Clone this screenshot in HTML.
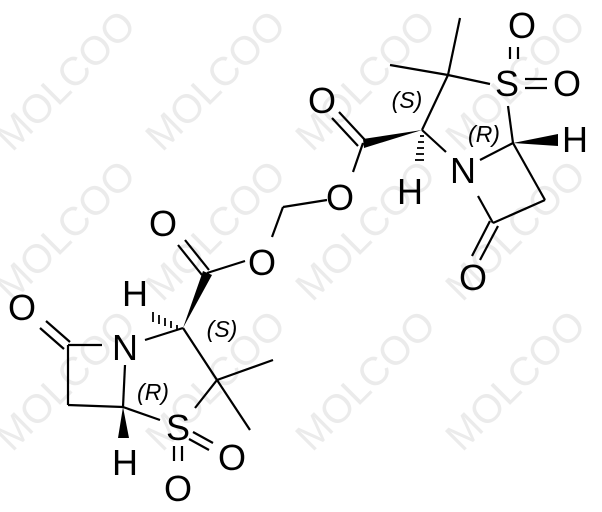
<!DOCTYPE html>
<html><head><style>html,body{margin:0;padding:0;background:#fff;overflow:hidden;width:602px;height:512px}svg{display:block}</style></head>
<body>
<svg width="602" height="512" viewBox="0 0 602 512" xmlns="http://www.w3.org/2000/svg" style="overflow:hidden">
<g font-family="'Liberation Sans', sans-serif" font-size="40" fill="#ebebeb" text-anchor="middle">
<text transform="translate(75,90) rotate(-45)">MOLCOO</text>
<text transform="translate(225,90) rotate(-45)">MOLCOO</text>
<text transform="translate(375,90) rotate(-45)">MOLCOO</text>
<text transform="translate(525,90) rotate(-45)">MOLCOO</text>
<text transform="translate(75,240) rotate(-45)">MOLCOO</text>
<text transform="translate(225,240) rotate(-45)">MOLCOO</text>
<text transform="translate(375,240) rotate(-45)">MOLCOO</text>
<text transform="translate(525,240) rotate(-45)">MOLCOO</text>
<text transform="translate(75,390) rotate(-45)">MOLCOO</text>
<text transform="translate(225,390) rotate(-45)">MOLCOO</text>
<text transform="translate(375,390) rotate(-45)">MOLCOO</text>
<text transform="translate(525,390) rotate(-45)">MOLCOO</text>
</g>
<g stroke="#000" stroke-width="2.2" fill="none">
<line x1="448" y1="75" x2="460" y2="18"/>
<line x1="448" y1="75" x2="390" y2="65"/>
<line x1="448" y1="75" x2="490" y2="84"/>
<line x1="448" y1="75" x2="422" y2="130"/>
<line x1="422" y1="130" x2="446" y2="152"/>
<line x1="480" y1="160" x2="513" y2="143"/>
<line x1="508" y1="106" x2="513" y2="143"/>
<line x1="513" y1="143" x2="545" y2="200"/>
<line x1="545" y1="200" x2="493" y2="223"/>
<line x1="493" y1="223" x2="478" y2="196"/>
<line x1="490" y1="221" x2="472" y2="256"/>
<line x1="498" y1="226" x2="480" y2="260"/>
<line x1="510" y1="47" x2="510" y2="59"/>
<line x1="518" y1="47" x2="518" y2="59"/>
<line x1="525" y1="79" x2="547" y2="79"/>
<line x1="525" y1="88" x2="547" y2="88"/>
<line x1="365" y1="140" x2="339" y2="112"/>
<line x1="358" y1="146" x2="332" y2="118"/>
<line x1="363" y1="143" x2="353" y2="172"/>
<line x1="327" y1="200" x2="283" y2="207"/>
<line x1="283" y1="207" x2="272" y2="237"/>
<line x1="207" y1="273" x2="245" y2="261"/>
<line x1="209" y1="270" x2="185" y2="240"/>
<line x1="202" y1="275" x2="178" y2="245"/>
<line x1="183" y1="328" x2="145" y2="340"/>
<line x1="183" y1="328" x2="217" y2="380"/>
<line x1="217" y1="380" x2="273" y2="360"/>
<line x1="217" y1="380" x2="250" y2="430"/>
<line x1="217" y1="380" x2="195" y2="408"/>
<line x1="160" y1="420" x2="123" y2="407"/>
<line x1="125" y1="365" x2="123" y2="407"/>
<line x1="123" y1="407" x2="68" y2="405"/>
<line x1="68" y1="405" x2="68" y2="345"/>
<line x1="68" y1="345" x2="102" y2="345"/>
<line x1="70" y1="342" x2="46" y2="321"/>
<line x1="64" y1="349" x2="40" y2="328"/>
<line x1="174" y1="446" x2="174" y2="461"/>
<line x1="182" y1="446" x2="182" y2="461"/>
<line x1="193" y1="432" x2="213" y2="443"/>
<line x1="189" y1="439" x2="209" y2="450"/>
</g>
<g fill="#000">
<polygon points="422,130 363,139 364,148"/>
<polygon points="513,143 558,134 558,146"/>
<polygon points="183,328 203,271 212,275"/>
<polygon points="123,407 118,438 129,438"/>
</g>
<g stroke="#000" stroke-width="1.8">
<line x1="420" y1="136" x2="424" y2="136"/>
<line x1="418" y1="142" x2="424" y2="142"/>
<line x1="417" y1="148" x2="424" y2="148"/>
<line x1="416" y1="154" x2="424" y2="154"/>
<line x1="415" y1="160" x2="424" y2="160"/>
<line x1="177" y1="325" x2="177" y2="330"/>
<line x1="171" y1="321" x2="171" y2="328"/>
<line x1="165" y1="318" x2="165" y2="326"/>
<line x1="159" y1="315" x2="159" y2="324"/>
<line x1="153" y1="312" x2="153" y2="322"/>
</g>
<g font-family="'Liberation Sans', Arial, sans-serif" font-size="36" fill="#000" text-anchor="middle">
<text x="507" y="96">S</text>
<text x="522" y="38">O</text>
<text x="567" y="96">O</text>
<text x="322" y="113">O</text>
<text x="340" y="210">O</text>
<text x="410" y="204">H</text>
<text x="463" y="183">N</text>
<text x="575" y="152">H</text>
<text x="473" y="290">O</text>
<text x="262" y="275">O</text>
<text x="163" y="236">O</text>
<text x="135" y="306">H</text>
<text x="125" y="360">N</text>
<text x="22" y="320">O</text>
<text x="178" y="440">S</text>
<text x="178" y="501">O</text>
<text x="232" y="470">O</text>
<text x="125" y="475">H</text>
</g>
<g font-family="'Liberation Sans', Arial, sans-serif" font-size="23" font-style="italic" fill="#000" text-anchor="middle">
<text x="407" y="108">(S)</text>
<text x="484" y="142">(R)</text>
<text x="222" y="337">(S)</text>
<text x="153" y="400">(R)</text>
</g>
</svg>
</body></html>
